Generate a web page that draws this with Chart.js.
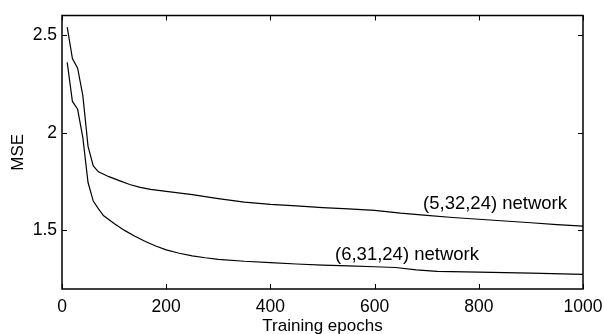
<!DOCTYPE html>
<html><head><meta charset="utf-8">
<script src="https://cdn.jsdelivr.net/npm/chart.js@4.4.1/dist/chart.umd.min.js"></script>
<style>html,body{margin:0;padding:0;background:#fff;}#wrap{width:604px;height:334px;}</style>
</head><body><div id="wrap"><canvas id="c" width="604" height="334"></canvas></div>
<script>
// (5,32,24) network
const epochsA = [10,20,30,40,50,60,70,90,110,130,150,170,200,250,300,350,400,450,500,550,600,650,700,750,800,850,900,950,1000];
const mseA    = [2.54,2.38,2.33,2.19,1.93,1.83,1.80,1.775,1.755,1.735,1.72,1.71,1.70,1.683,1.663,1.645,1.633,1.625,1.617,1.610,1.602,1.588,1.577,1.566,1.557,1.548,1.539,1.530,1.522];
// (6,31,24) network
const epochsB = [10,20,30,40,50,60,70,80,100,120,140,160,180,200,225,250,275,300,350,400,450,500,550,600,640,680,720,800,900,1000];
const mseB    = [2.36,2.16,2.12,1.975,1.745,1.65,1.61,1.575,1.535,1.50,1.47,1.443,1.42,1.40,1.383,1.37,1.36,1.352,1.342,1.335,1.328,1.322,1.318,1.314,1.310,1.298,1.290,1.286,1.281,1.275];
const seriesNames = ['(5,32,24) network','(6,31,24) network'];
const xTicks = [0,200,400,600,800,1000];
const yTicks = [1.5,2,2.5];
const xTitle = 'Training epochs';
const yTitle = 'MSE';

const FONT = '"Liberation Sans", Arial, Helvetica, sans-serif';

const frame = {
  id: 'frame',
  afterDatasetsDraw(chart) {
    const {ctx, chartArea: a, scales: {x, y}} = chart;
    ctx.save();
    ctx.strokeStyle = '#000';
    ctx.lineWidth = 1;
    const L = 5;
    ctx.beginPath();
    xTicks.forEach(v => {
      const px = Math.round(x.getPixelForValue(v)) + 0.5;
      ctx.moveTo(px, a.bottom); ctx.lineTo(px, a.bottom - L);
      ctx.moveTo(px, a.top); ctx.lineTo(px, a.top + L);
    });
    yTicks.forEach(v => {
      const py = Math.round(y.getPixelForValue(v)) + 0.5;
      ctx.moveTo(a.left, py); ctx.lineTo(a.left + L, py);
      ctx.moveTo(a.right, py); ctx.lineTo(a.right - L, py);
    });
    ctx.stroke();
    ctx.lineWidth = 1.5;
    ctx.strokeRect(a.left, a.top, a.right - a.left, a.bottom - a.top);
    // series labels
    ctx.fillStyle = '#000';
    ctx.font = '18.5px ' + FONT;
    ctx.textBaseline = 'middle';
    ctx.textAlign = 'left';
    const anchors = [[693, 1.637], [524, 1.372]];
    seriesNames.forEach((s, i) => {
      ctx.fillText(s, x.getPixelForValue(anchors[i][0]), y.getPixelForValue(anchors[i][1]));
    });
    ctx.restore();
  }
};

new Chart(document.getElementById('c'), {
  type: 'line',
  data: {
    datasets: [
      { label: seriesNames[0], data: epochsA.map((e, i) => ({x: e, y: mseA[i]})) },
      { label: seriesNames[1], data: epochsB.map((e, i) => ({x: e, y: mseB[i]})) }
    ].map(d => Object.assign(d, {borderColor: '#000', borderWidth: 1.2, pointRadius: 0, tension: 0, fill: false}))
  },
  options: {
    responsive: false,
    animation: false,
    devicePixelRatio: 1,
    layout: { padding: { left: 0, right: 21, top: 14, bottom: 0 } },
    plugins: { legend: { display: false }, tooltip: { enabled: false } },
    scales: {
      x: {
        type: 'linear', min: 0, max: 1000,
        afterBuildTicks: s => { s.ticks = xTicks.map(v => ({value: v})); },
        afterFit: s => { s.height = 45; s.paddingLeft = 0; s.paddingRight = 0; },
        grid: { display: false, drawTicks: false },
        border: { display: false },
        ticks: { padding: 8, color: '#000', font: { family: FONT, size: 17.5 }, maxRotation: 0, callback: v => String(v) },
        title: { display: true, text: xTitle, color: '#000', font: { family: FONT, size: 17 }, padding: { top: 0, bottom: -3 } }
      },
      y: {
        type: 'linear', min: 1.2, max: 2.6,
        afterBuildTicks: s => { s.ticks = yTicks.map(v => ({value: v})); },
        afterFit: s => { s.width = 62; },
        grid: { display: false, drawTicks: false },
        border: { display: false },
        ticks: { padding: 5, color: '#000', font: { family: FONT, size: 17.5 }, callback: v => String(v) },
        title: { display: true, text: yTitle, color: '#000', font: { family: FONT, size: 17 }, padding: { top: 8, bottom: 0 } }
      }
    }
  },
  plugins: [frame]
});
</script>
</body></html>
